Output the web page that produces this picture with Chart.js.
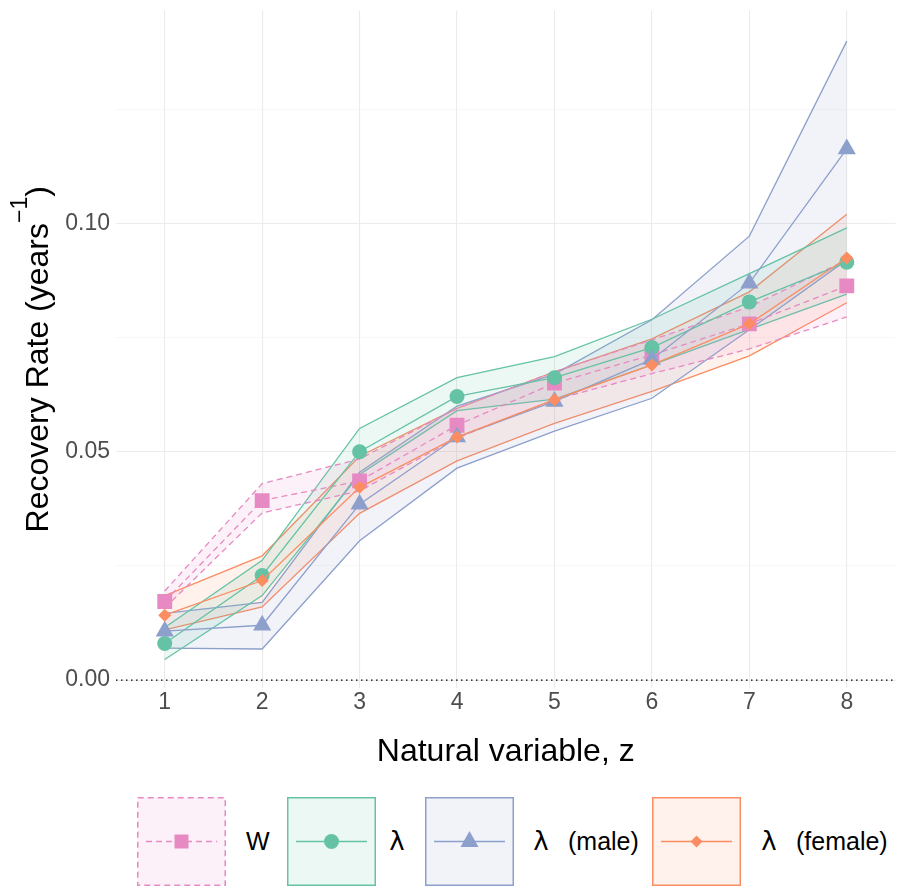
<!DOCTYPE html>
<html>
<head>
<meta charset="utf-8">
<script src="https://cdn.jsdelivr.net/npm/chart.js@4.4.1/dist/chart.umd.min.js"></script>
<style>
  body { margin: 0; background: #fff; font-family: "Liberation Sans", Arial, sans-serif; overflow: hidden; }
  #wrap { position: relative; width: 898px; height: 888px; overflow: hidden; }
  #chart { position: absolute; left: 0; top: 0; }
  .key { position: absolute; top: 797px; width: 89px; height: 89px; }
  .keyText { position: absolute; top: 841px; transform: translateY(-50%); font-size: 25px; color: #000; white-space: nowrap; }
  .lam { display: inline-block; width: 20px; text-align: center; font-family: "DejaVu Sans", sans-serif; font-size: 26px; margin-right: 17px; }
</style>
</head>
<body>
<div id="wrap">
  <canvas id="chart" width="906" height="790"></canvas>
</div>
<script>
// natural variable z
const zValues = [1, 2, 3, 4, 5, 6, 7, 8];
const yTicks = [0, 0.025, 0.05, 0.075, 0.1, 0.125];

// W
const wMean  = [0.0172, 0.0393, 0.0436, 0.0558, 0.0650, 0.0712, 0.0780, 0.0863];
const wLower = [0.0158, 0.0366, 0.0414, 0.0530, 0.0614, 0.0671, 0.0725, 0.0795];
const wUpper = [0.0195, 0.0430, 0.0484, 0.0595, 0.0675, 0.0745, 0.0817, 0.0920];

// lambda
const lamMean  = [0.0080, 0.0229, 0.0500, 0.0621, 0.0662, 0.0728, 0.0828, 0.0915];
const lamLower = [0.0045, 0.0185, 0.0450, 0.0590, 0.0615, 0.0690, 0.0768, 0.0845];
const lamUpper = [0.0115, 0.0262, 0.0551, 0.0662, 0.0708, 0.0790, 0.0890, 0.0990];

// lambda (male)
const maleMean  = [0.0107, 0.0120, 0.0385, 0.0532, 0.0610, 0.0702, 0.0869, 0.1163];
const maleLower = [0.0070, 0.0068, 0.0305, 0.0464, 0.0545, 0.0617, 0.0767, 0.0920];
const maleUpper = [0.0146, 0.0170, 0.0455, 0.0600, 0.0670, 0.0789, 0.0972, 0.1399];

// lambda (female)
const femMean  = [0.0142, 0.0218, 0.0422, 0.0532, 0.0614, 0.0690, 0.0780, 0.0924];
const femLower = [0.0110, 0.0160, 0.0365, 0.0480, 0.0562, 0.0632, 0.0710, 0.0826];
const femUpper = [0.0185, 0.0272, 0.0490, 0.0595, 0.0675, 0.0747, 0.0850, 0.1020];

const seriesNames = ['W', 'λ', 'λ (male)', 'λ (female)'];
const seriesColors = ['#e78ac3', '#66c2a5', '#8da0cb', '#fc8d62'];

function rgba(hex, a) {
  const n = parseInt(hex.slice(1), 16);
  return `rgba(${n >> 16},${(n >> 8) & 255},${n & 255},${a})`;
}

function pts(arr) {
  return arr.map((v, i) => ({ x: zValues[i], y: v }));
}

const series = [
  { mean: wMean, lower: wLower, upper: wUpper, dash: [6, 4], style: 'rect', radius: 10.5 },
  { mean: lamMean, lower: lamLower, upper: lamUpper, dash: [], style: 'circle', radius: 7.5 },
  { mean: maleMean, lower: maleLower, upper: maleUpper, dash: [], style: 'triangle', radius: 10.5 },
  { mean: femMean, lower: femLower, upper: femUpper, dash: [], style: 'rectRot', radius: 6.5 }
];

const datasets = [];
series.forEach((s, k) => {
  const col = seriesColors[k];
  datasets.push({
    label: seriesNames[k] + ' upper',
    data: pts(s.upper),
    borderColor: col, borderWidth: 1.3, borderDash: s.dash,
    pointRadius: 0, fill: false, order: 10 + k
  });
  datasets.push({
    label: seriesNames[k] + ' lower',
    data: pts(s.lower),
    borderColor: col, borderWidth: 1.3, borderDash: s.dash,
    backgroundColor: rgba(col, 0.12),
    pointRadius: 0, fill: '-1', order: 10 + k
  });
});
series.forEach((s, k) => {
  const col = seriesColors[k];
  datasets.push({
    label: seriesNames[k],
    data: pts(s.mean),
    borderColor: col, borderWidth: 1.3, borderDash: s.dash,
    backgroundColor: col,
    pointStyle: s.style, pointRadius: s.radius, pointBorderWidth: 0,
    pointBackgroundColor: col,
    fill: false, order: 4 - k
  });
});

// dotted line at zero
const zeroLine = {
  id: 'zeroLine',
  beforeDatasetsDraw(chart) {
    const { ctx, chartArea, scales } = chart;
    const y = scales.y.getPixelForValue(0);
    ctx.save();
    ctx.strokeStyle = '#000';
    ctx.lineWidth = 1.3;
    ctx.setLineDash([1.5, 3.5]);
    ctx.beginPath();
    ctx.moveTo(chartArea.left, y);
    ctx.lineTo(chartArea.right, y);
    ctx.stroke();
    ctx.restore();
  }
};

// y title with a real superscript
const yTitle = {
  id: 'yTitle',
  afterDraw(chart) {
    const { ctx, chartArea } = chart;
    const parts = [
      { t: 'Recovery Rate (years', size: 32, rise: 0 },
      { t: '\u22121', size: 23, rise: 21 },
      { t: ')', size: 32, rise: 0 }
    ];
    ctx.save();
    let total = 0;
    parts.forEach(p => {
      ctx.font = `${p.size}px "Liberation Sans", Arial, sans-serif`;
      p.w = ctx.measureText(p.t).width;
      total += p.w;
    });
    const cy = (chartArea.top + chartArea.bottom) / 2 + 10;
    ctx.translate(48, cy);
    ctx.rotate(-Math.PI / 2);
    ctx.fillStyle = '#000';
    ctx.textBaseline = 'alphabetic';
    let x = -total / 2;
    parts.forEach(p => {
      ctx.font = `${p.size}px "Liberation Sans", Arial, sans-serif`;
      ctx.fillText(p.t, x, -p.rise);
      x += p.w;
    });
    ctx.restore();
  }
};

const isMajor = v => Math.round(v * 1000) % 50 === 0;

new Chart(document.getElementById('chart'), {
  type: 'line',
  data: { datasets },
  plugins: [zeroLine, yTitle],
  options: {
    responsive: false,
    animation: false,
    layout: { padding: { top: 7, right: 4, left: 0, bottom: 0 } },
    plugins: { legend: { display: false }, tooltip: { enabled: false } },
    elements: { line: { tension: 0 } },
    scales: {
      x: {
        type: 'linear', min: 0.5, max: 8.5,
        afterBuildTicks: axis => { axis.ticks = zValues.map(v => ({ value: v })); },
        afterFit: axis => { axis.height = 102; axis.paddingLeft = 0; axis.paddingRight = 0; },
        border: { display: false },
        grid: { color: '#ebebeb', lineWidth: 1.1, drawTicks: false },
        ticks: { color: '#4d4d4d', font: { size: 23 }, padding: 1, maxRotation: 0 },
        title: { display: true, text: 'Natural variable, z', color: '#000', font: { size: 32 }, padding: { top: 0, bottom: 19 } }
      },
      y: {
        type: 'linear', min: -0.00174, max: 0.1466,
        afterBuildTicks: axis => { axis.ticks = yTicks.map(v => ({ value: v })); },
        afterFit: axis => { axis.width = 116; axis.paddingTop = 0; axis.paddingBottom = 0; },
        border: { display: false },
        grid: {
          drawTicks: false,
          color: c => (isMajor(c.tick.value) ? '#ebebeb' : '#f4f4f4'),
          lineWidth: c => (isMajor(c.tick.value) ? 1.1 : 0.7)
        },
        ticks: {
          color: '#4d4d4d', font: { size: 23 }, padding: 6,
          callback: v => (isMajor(v) ? v.toFixed(2) : '')
        },
        title: { display: false }
      }
    }
  }
});

// legend
const keyLeft = [137, 287, 425, 652];
const textLeft = [246, 387, 531, 759];
const wrap = document.getElementById('wrap');
seriesNames.forEach((name, k) => {
  const col = seriesColors[k];
  const box = document.createElement('div');
  box.className = 'key';
  box.style.left = keyLeft[k] + 'px';
  let marker;
  if (k === 0) marker = `<rect x="37.5" y="37.5" width="14" height="14" fill="${col}"/>`;
  else if (k === 1) marker = `<circle cx="44.5" cy="44.5" r="7.5" fill="${col}"/>`;
  else if (k === 2) marker = `<polygon points="44.5,34 53.5,50 35.5,50" fill="${col}"/>`;
  else marker = `<polygon points="44.5,38.5 50.5,44.5 44.5,50.5 38.5,44.5" fill="${col}"/>`;
  const dash = k === 0 ? 'stroke-dasharray="6 4"' : '';
  box.innerHTML = `<svg width="89" height="89">
    <rect x="0.75" y="0.75" width="87.5" height="87.5" fill="${rgba(col, 0.12)}" stroke="${col}" stroke-width="1.5" ${dash}/>
    <line x1="9" y1="44.5" x2="80" y2="44.5" stroke="${col}" stroke-width="1.5" ${dash}/>${marker}</svg>`;
  wrap.appendChild(box);
  const t = document.createElement('div');
  t.className = 'keyText';
  t.style.left = textLeft[k] + 'px';
  if (name.startsWith('λ')) {
    const l = document.createElement('span');
    l.className = 'lam';
    l.textContent = 'λ';
    t.appendChild(l);
    t.appendChild(document.createTextNode(name.slice(1).trim()));
  } else {
    t.textContent = name;
  }
  wrap.appendChild(t);
});
</script>
</body>
</html>
